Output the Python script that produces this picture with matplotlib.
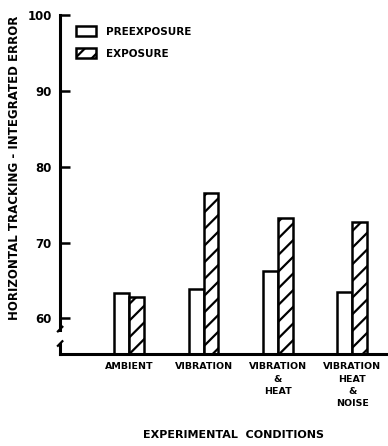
import matplotlib
matplotlib.use("Agg")
import matplotlib.pyplot as plt
import numpy as np

# data
conditions = ["AMBIENT", "VIBRATION", "VIBRATION\n&\nHEAT", "VIBRATION\nHEAT\n&\nNOISE"]
preexposure = [63.3, 63.9, 66.2, 63.5]
exposure = [62.8, 76.6, 73.3, 72.7]
yticks = [60, 70, 80, 90, 100]

font = ["Liberation Sans Narrow", "DejaVu Sans"]
plt.rcParams["font.family"] = font
plt.rcParams["font.weight"] = "bold"
plt.rcParams["axes.labelweight"] = "bold"
plt.rcParams["hatch.linewidth"] = 1.6

fig = plt.figure(figsize=(3.88, 4.46), dpi=100)
ax = fig.add_axes([0.155, 0.206, 0.845, 0.760])

x = np.arange(len(conditions))
w = 0.2
ax.bar(x - w / 2, preexposure, w, bottom=0, color="white", edgecolor="black",
       linewidth=1.8, label="PREEXPOSURE")
ax.bar(x + w / 2, exposure, w, bottom=0, color="white", edgecolor="black",
       linewidth=1.8, hatch="//", label="EXPOSURE")

ax.set_xlim(-0.93, 3.48)
ax.set_ylim(55.3, 100)

for s in ["top", "right", "left"]:
    ax.spines[s].set_visible(False)
ax.spines["bottom"].set_linewidth(2.2)

# broken y axis
ax.plot([-0.93, -0.93], [58.5, 100], color="black", lw=2.2, clip_on=False)
ax.plot([-0.93, -0.93], [55.3, 56.6], color="black", lw=2.2, clip_on=False)
ax.plot([-0.96, -0.90], [58.3, 58.9], color="black", lw=1.6, clip_on=False)
ax.plot([-0.96, -0.90], [56.4, 57.0], color="black", lw=1.6, clip_on=False)

ax.set_yticks(yticks)
ax.set_yticklabels([str(v) for v in yticks], fontsize=8.5)
ax.tick_params(axis="y", direction="in", length=7, width=1.8, pad=6)
ax.tick_params(axis="x", length=0, pad=6)
ax.set_xticks(x)
ax.set_xticklabels(conditions, fontsize=6.8, linespacing=1.45, va="top")
for lbl in ax.get_xticklabels():
    lbl.set_ha("center")

ax.set_ylabel("HORIZONTAL TRACKING - INTEGRATED ERROR", fontsize=8.5)
ax.yaxis.set_label_coords(-0.12, 0.55)
ax.set_xlabel("EXPERIMENTAL  CONDITIONS", fontsize=8)
ax.xaxis.set_label_coords(0.53, -0.225)

leg = ax.legend(loc="upper left", bbox_to_anchor=(0.02, 0.995), frameon=False,
                prop={"size": 7.5, "weight": "bold"}, handlelength=1.9,
                handleheight=1.1, handletextpad=1.0, labelspacing=1.1)

fig.savefig("out.png", dpi=100)
